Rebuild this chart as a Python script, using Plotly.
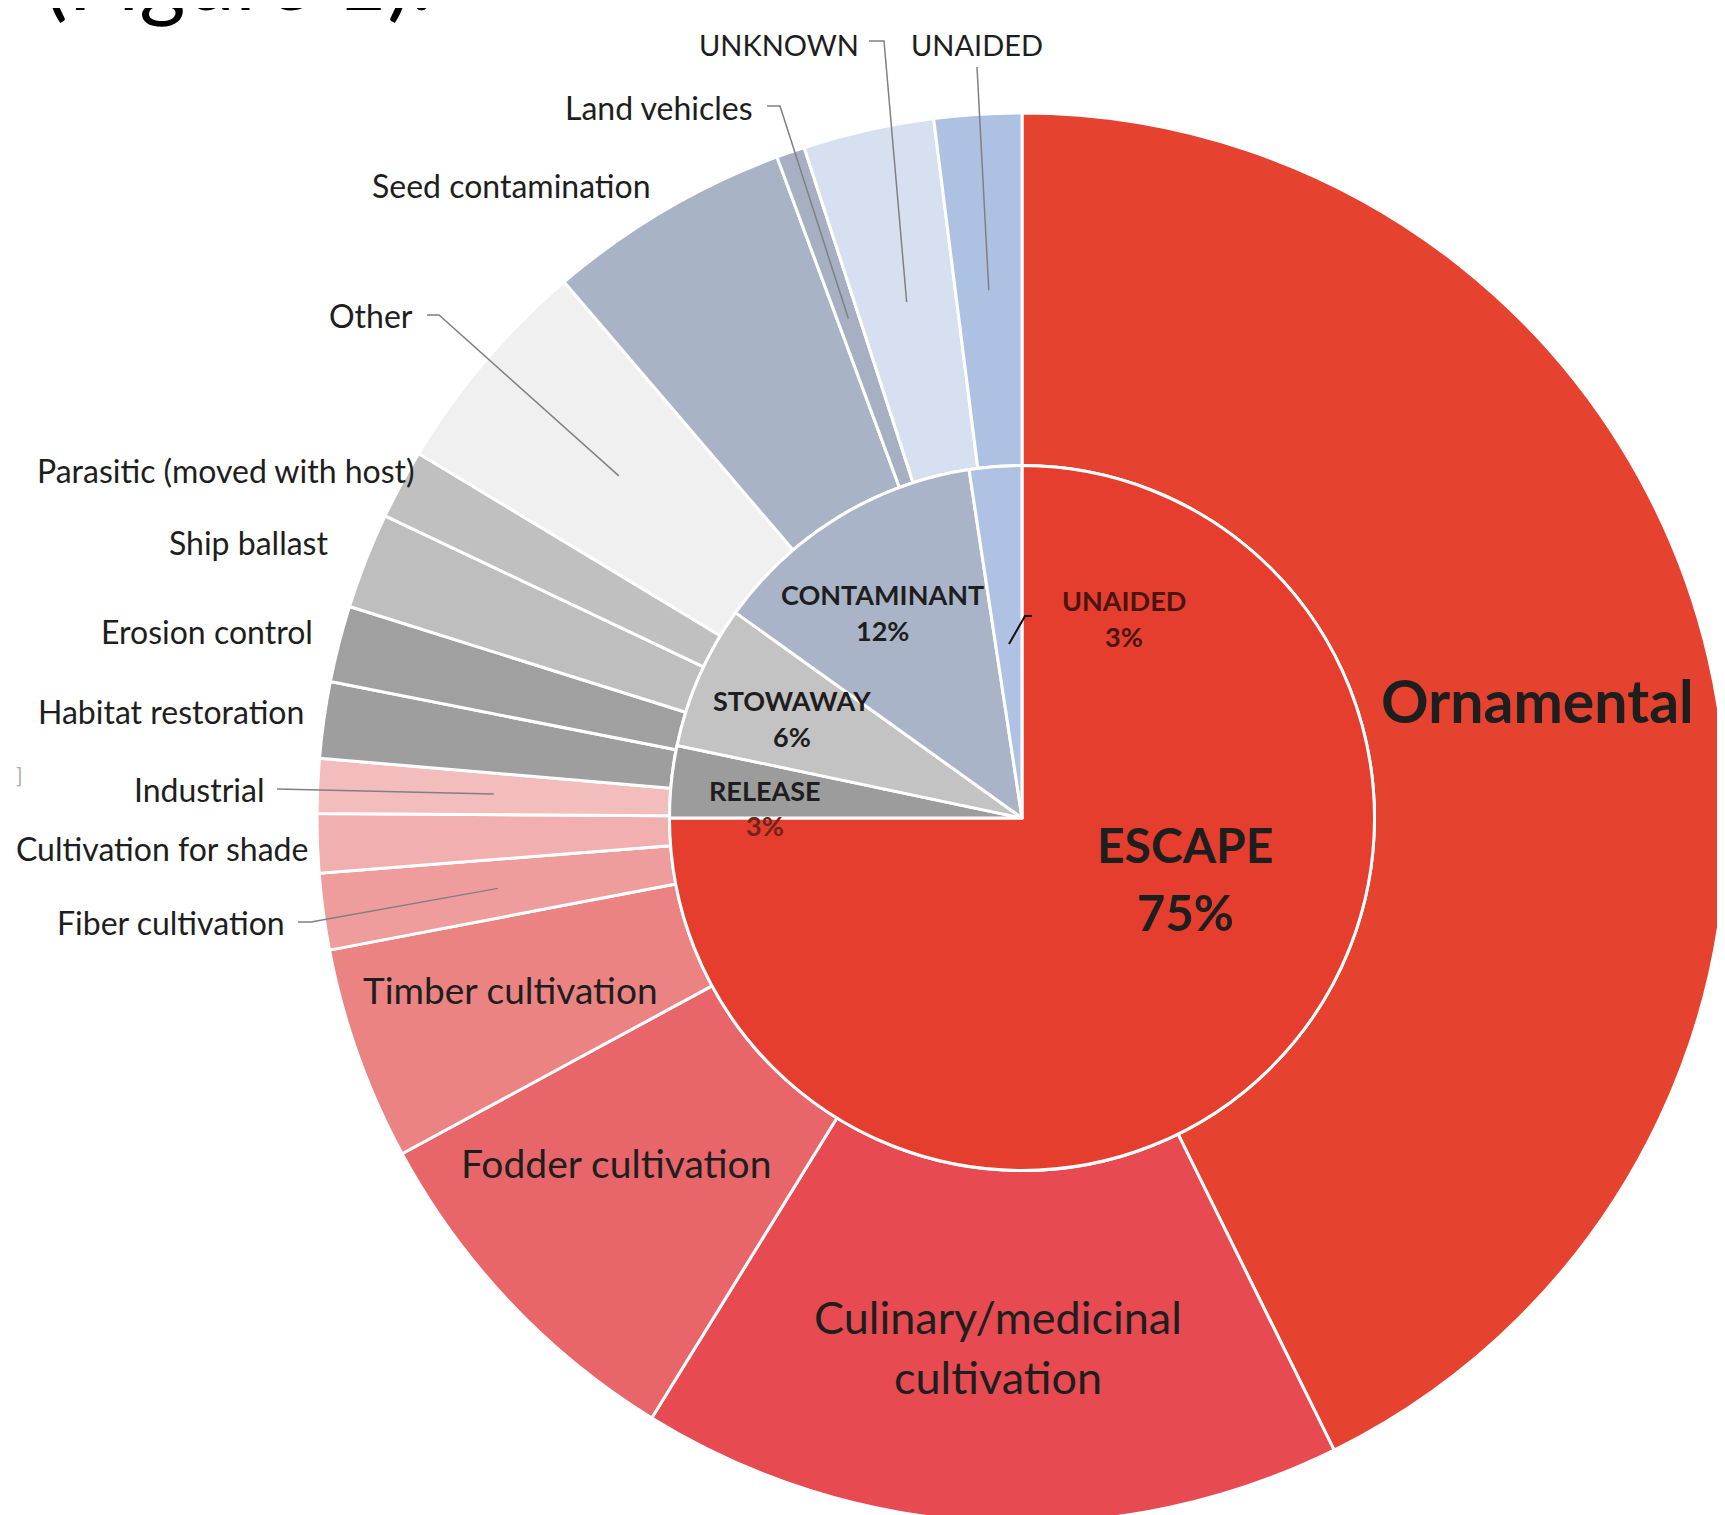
import math
import plotly.graph_objects as go

# ---------------- data ----------------
inner_labels = ["ESCAPE", "RELEASE", "STOWAWAY", "CONTAMINANT", "UNAIDED"]
inner_values = [75.0, 3.3, 6.6, 12.7, 2.4]
inner_pct_text = ["75%", "3%", "6%", "12%", "3%"]

outer_labels = ["Ornamental", "Culinary/medicinal cultivation", "Fodder cultivation",
                "Timber cultivation", "Fiber cultivation", "Cultivation for shade",
                "Industrial", "Habitat restoration", "Erosion control", "Ship ballast",
                "Parasitic (moved with host)", "Other", "Seed contamination",
                "Land vehicles", "UNKNOWN", "UNAIDED"]
outer_values = [42.7, 16.1, 8.3, 4.9, 1.75, 1.35, 1.25, 1.75, 1.75, 2.2,
                1.6, 5.1, 5.6, 0.65, 3.0, 2.0]

# ---------------- styles ----------------
inner_colors = ["#E53E2F", "#9C9C9C", "#C3C3C3", "#AAB4C8", "#AFC2E3"]
outer_colors = ["#E5422F", "#E74A51", "#E8666A", "#EC8383", "#EE9C9C", "#F1AFAF",
                "#F3BDBD", "#9E9E9E", "#A0A0A0", "#BEBEBE", "#C0C0C0", "#F0F0F0",
                "#A9B3C6", "#A6B0C2", "#D7E0F0", "#ADC1E3"]

W, H = 1725, 1515
R = 705
CX, CY = 1014, H - R          # pixel geometry of the chart
FONT = "Lato"
TXT = "#1e1e1e"
OX, OY = -6, -9               # offset applied to label placements


def px(x, y):
    return x / W, 1 - y / H


def dom(radius):
    return dict(x=[(CX - radius) / W, (CX + radius) / W],
                y=[max(0.0, (H - CY - radius) / H), (H - CY + radius) / H])


fig = go.Figure()
fig.add_trace(go.Pie(values=outer_values, labels=outer_labels, sort=False,
                     direction="clockwise", rotation=0, hole=0.5,
                     marker=dict(colors=outer_colors, line=dict(color="white", width=3)),
                     textinfo="none", domain=dom(R), showlegend=False))
fig.add_trace(go.Pie(values=inner_values, labels=inner_labels, sort=False,
                     direction="clockwise", rotation=0, hole=0,
                     marker=dict(colors=inner_colors, line=dict(color="white", width=3)),
                     textinfo="none", domain=dom(R / 2), showlegend=False))

# slice mid-angles of outer ring (from data)
tot = sum(outer_values)
mid = {}
cum = 0
for lab, v in zip(outer_labels, outer_values):
    mid[lab] = (cum + v / 2) / tot * 2 * math.pi
    cum += v


def slice_point(lab, frac=0.75):
    a = mid[lab]
    return CX + frac * R * math.sin(a), CY - frac * R * math.cos(a)


annotations = []


def txt(text, x, y, size, anchor="center", bold=False, color=TXT):
    xx, yy = px(x + OX, y + OY)
    annotations.append(dict(x=xx, y=yy, xref="paper", yref="paper", showarrow=False,
                            text=("<b>%s</b>" % text) if bold else text,
                            xanchor=anchor, yanchor="middle",
                            font=dict(family=FONT, size=size, color=color)))


# outside labels (label positions)
outside_pos = {
    "UNKNOWN": (777, 45, "center", 29),
    "UNAIDED": (975, 45, "center", 29),
    "Land vehicles": (753, 108, "right", 32),
    "Seed contamination": (651, 187, "right", 32),
    "Other": (413, 316, "right", 32),
    "Parasitic (moved with host)": (415, 471, "right", 32),
    "Ship ballast": (328, 543, "right", 32),
    "Erosion control": (313, 633, "right", 32),
    "Habitat restoration": (304, 712, "right", 32),
    "Industrial": (264, 790, "right", 32),
    "Cultivation for shade": (308, 849, "right", 32),
    "Fiber cultivation": (285, 923, "right", 32),
}
for lab, (x, y, a, s) in outside_pos.items():
    txt(lab, x, y, s, a)

# inside labels of outer ring
txt("Ornamental", 1535, 701, 59, bold=True)
txt("Culinary/medicinal", 996, 1318, 45)
txt("cultivation", 996, 1378, 45)
txt("Fodder cultivation", 614, 1164, 39)
txt("Timber cultivation", 508, 990, 37)

# inner ring labels
S_IN = 27
inner_pos = {
    "CONTAMINANT": (880, 595),
    "STOWAWAY": (790, 701),
    "RELEASE": (763, 791),
}
for lab, (x, y) in inner_pos.items():
    i = inner_labels.index(lab)
    txt(lab, x, y, S_IN, bold=True)
    txt(inner_pct_text[i], x, y + 36, S_IN, bold=True,
        color="#6E231B" if lab == "RELEASE" else TXT)
txt("UNAIDED", 1122, 601, S_IN, bold=True, color="#4A1410")
txt(inner_pct_text[4], 1122, 637, S_IN, bold=True, color="#4A1410")
txt("ESCAPE", 1183, 845, 48, bold=True)
txt(inner_pct_text[0], 1183, 913, 49, bold=True)

# cropped heading text at top
xx, yy = px(40 + OX, 32 + OY)
annotations.append(dict(x=xx, y=yy, xref="paper", yref="paper", showarrow=False,
                        text="(Figure 1).", xanchor="left", yanchor="bottom",
                        font=dict(family=FONT, size=89, color="#000000")))
txt("]", 17, 775, 22, color="#B0B0B0")

# leader lines
shapes = []


def leader(points, color="#808080", width=1.5):
    path = ""
    for k, (x, y) in enumerate(points):
        xx, yy = px(x, y)
        path += ("M" if k == 0 else " L") + " %.5f,%.5f" % (xx, yy)
    shapes.append(dict(type="path", path=path, xref="paper", yref="paper",
                       line=dict(color=color, width=width)))


def lp(x, y):
    return x + OX, y + OY


leader([lp(867, 42), lp(882, 42), slice_point("UNKNOWN")])
leader([lp(975, 68), slice_point("UNAIDED")])
leader([lp(765, 107), lp(778, 107), slice_point("Land vehicles")])
leader([lp(425, 316), lp(437, 316), slice_point("Other")])
leader([lp(275, 790), slice_point("Industrial")])
leader([lp(296, 923), lp(309, 923), slice_point("Fiber cultivation")])
# inner UNAIDED leader
leader([lp(1030, 617), lp(1023, 617), lp(1007, 645)], color="#111111", width=2)

fig.update_layout(width=W, height=H, margin=dict(l=0, r=0, t=0, b=0),
                  paper_bgcolor="white", plot_bgcolor="white",
                  annotations=annotations, shapes=shapes, showlegend=False)
fig.write_html("out.html")
